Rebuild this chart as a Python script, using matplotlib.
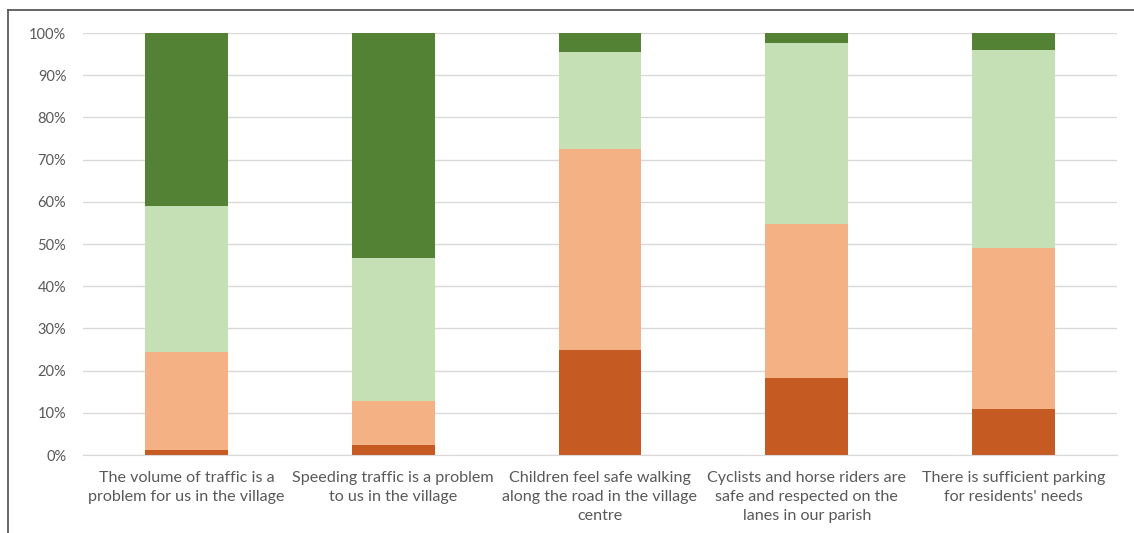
import matplotlib
matplotlib.use('Agg')
import matplotlib.pyplot as plt
from matplotlib.lines import Line2D
from matplotlib.ticker import PercentFormatter

# categories and survey shares (percent)
categories = [
    "The volume of traffic is a\nproblem for us in the village",
    "Speeding traffic is a problem\nto us in the village",
    "Children feel safe walking\nalong the road in the village\ncentre",
    "Cyclists and horse riders are\nsafe and respected on the\nlanes in our parish",
    "There is sufficient parking\nfor residents' needs",
]
strongly_disagree = [1.3, 2.4, 25.0, 18.2, 11.0]
disagree = [23.0, 10.4, 47.5, 36.5, 38.1]
agree = [34.7, 33.9, 23.0, 42.9, 47.0]
strongly_agree = [41.0, 53.3, 4.5, 2.4, 3.9]

series = [strongly_disagree, disagree, agree, strongly_agree]
colors = ['#C55A22', '#F4B183', '#C5E0B4', '#548235']

plt.rcParams['font.family'] = ['Lato', 'DejaVu Sans']

fig = plt.figure(figsize=(11.34, 5.33), dpi=100)
ax = fig.add_axes([0.0732, 0.1463, 0.9118, 0.7917])

x = range(len(categories))
bottom = [0.0] * len(categories)
for vals, c in zip(series, colors):
    ax.bar(x, vals, width=0.4, bottom=bottom, color=c, zorder=2)
    bottom = [b + v for b, v in zip(bottom, vals)]

ax.set_xlim(-0.5, len(categories) - 0.5)
ax.set_ylim(0, 100)
ax.set_yticks(range(0, 101, 10))
ax.yaxis.set_major_formatter(PercentFormatter(decimals=0))
ax.set_xticks(list(x))
ax.set_xticklabels(categories, fontsize=11.6, color='#595959', linespacing=1.45)
ax.tick_params(axis='y', length=0, pad=12, labelsize=10.5, labelcolor='#595959')
ax.tick_params(axis='x', length=0, pad=11.5)
ax.grid(axis='y', color='#D9D9D9', linewidth=1, zorder=0)
for s in ['top', 'right', 'left']:
    ax.spines[s].set_visible(False)
ax.spines['bottom'].set_color('#D9D9D9')

# outer frame (left and top only, the rest is cropped)
fig.add_artist(Line2D([0.0071, 0.0071], [0, 0.981], color='#595959', linewidth=1.3))
fig.add_artist(Line2D([0.0071, 1], [0.981, 0.981], color='#595959', linewidth=1.3))

fig.savefig('out.png', dpi=100)
